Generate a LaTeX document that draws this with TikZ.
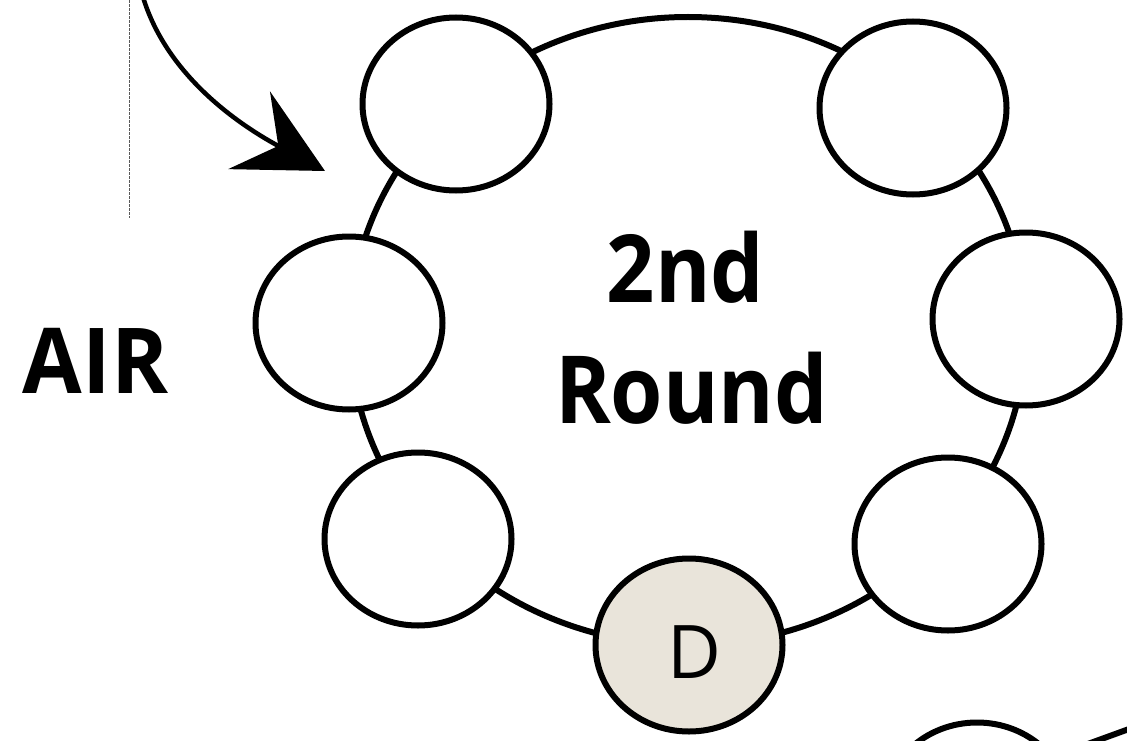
\documentclass[tikz,border=0pt]{standalone}
\usepackage{fontspec}
\newfontfamily\os{Open Sans}
\usetikzlibrary{shapes.geometric,arrows.meta}
\definecolor{dfill}{RGB}{233,228,218}
\begin{document}
\begin{tikzpicture}[x=1pt,y=-1pt,
  ringline/.style={line width=6pt,black},
  seat/.style={ellipse,draw=black,line width=6pt,fill=white,minimum width=187pt,minimum height=173pt,inner sep=0pt},
  bigtext/.style={font=\os\bfseries\fontsize{94}{100}\selectfont,inner sep=0pt,anchor=base,xscale=0.9},
  guide/.style={line width=0.8pt,black!65,dash pattern=on 3pt off 1pt}]
\useasboundingbox (0,0) rectangle (1127,741);
\clip (0,0) rectangle (1127,741);
% guide line
\coordinate (vtop) at (129,0);
\coordinate (vbot) at (129,218);
\draw[guide] (vtop) -- (vbot);
% ring
\draw[ringline] (688,331) ellipse [x radius=338pt, y radius=314pt];
% seats
\node[seat] (TL) at (456,104) {};
\node[seat] (TR) at (913,108) {};
\node[seat] (L)  at (349,323) {};
\node[seat] (R)  at (1026,319) {};
\node[seat] (BL) at (418,539) {};
\node[seat] (BR) at (948,544) {};
\node[seat,fill=dfill,font=\os\fontsize{74}{80}\selectfont] (D) at (689,645) {\hspace{10pt}\raisebox{-33pt}[0pt][0pt]{D}};
\node[seat] (P) at (977,809) {};
\coordinate (pin) at (1052,757);
\coordinate (pout) at (1140,725);
\draw[ringline] (pin) -- (pout);
% texts
\node[bigtext] (t2nd) at (685.5,302) {2nd};
\node[bigtext] (tround) at (691.5,423) {Round};
\node[font=\os\bfseries\fontsize{91}{100}\selectfont,inner sep=0pt,anchor=base,xscale=0.95] (air) at (95.5,393) {AIR};
% arrow
\coordinate (astart) at (143,-3);
\coordinate (atip) at (325,171);
\draw[line width=4.5pt,-{Stealth[length=86pt,width=88pt,inset=33pt]}] (astart) .. controls (165,70) and (230,120) .. (atip);
\end{tikzpicture}
\end{document}
